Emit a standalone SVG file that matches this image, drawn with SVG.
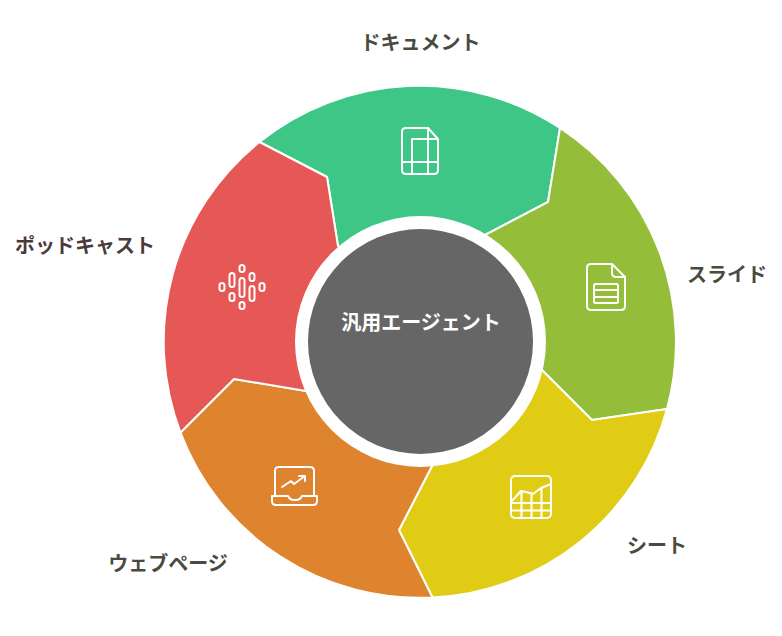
<svg xmlns="http://www.w3.org/2000/svg" width="782" height="636" viewBox="0 0 782 636">
<style>
.seg{stroke:#fff;stroke-width:2;stroke-linejoin:round}
.ic{fill:none;stroke:#fff;stroke-width:2;stroke-linecap:round;stroke-linejoin:round}
.lb{font-family:"Noto Sans CJK JP","Noto Sans",sans-serif;font-weight:700;font-size:20px;text-anchor:middle}
</style>
<rect width="782" height="636" fill="#fff"/>
<g id="connectors"></g>
<g id="node-document">
<path class="seg" fill="#3dc685" d="M259.500 142A255.500 255.500 0 0 1 560 128L548 202L485 235L420 300L338 246L327 177Z"/>
<g class="ic"><path d="M406 128H428L438 139V170Q438 174 434 174H406Q402 174 402 170V132Q402 128 406 128Z"/><path d="M428 128V139H438M412 174V139H428M402 162H438M428 139V174"/></g>
<text class="lb" x="420.500" y="50" fill="#4a4a40">ドキュメント</text>
</g>
<g id="node-slide">
<path class="seg" fill="#94bd3a" d="M560 128A255.500 255.500 0 0 1 667 409L592 420L542 370L420 340L485 235L548 202Z"/>
<g class="ic"><path d="M591 264H612L625 277V306Q625 310 621 310H591Q587 310 587 306V268Q587 264 591 264ZM612 264V273Q612 277 616 277H625"/><rect x="594" y="284" width="24" height="19" rx="1.500"/><path d="M594 290H618M594 297H618"/></g>
<text class="lb" x="727" y="282" fill="#4a4a40">スライド</text>
</g>
<g id="node-sheet">
<path class="seg" fill="#e0cc15" d="M667 409A255.500 255.500 0 0 1 432.500 597.500L399 530L432 466L420 340L542 370L592 420Z"/>
<g class="ic"><rect x="511" y="476" width="40" height="42" rx="4"/><path d="M511 502L521 491L526 492L533 494L541 488L551 484M521.500 491V518M531.500 493V518M541.500 488V518M511 503H551M511 510.500H551"/></g>
<text class="lb" x="657" y="553" fill="#4a4a40">シート</text>
</g>
<g id="node-web">
<path class="seg" fill="#de832e" d="M432.500 597.500A255.500 255.500 0 0 1 180.500 432.500L234 379L306 391L420 340L432 466L399 530Z"/>
<g class="ic"><path d="M275 496V471Q275 467 279 467H310Q314 467 314 471V496"/><path d="M272 496H288Q290 500 294 500H296Q300 500 302 496H317V501Q317 505 313 505H276Q272 505 272 501Z"/><path d="M282 487L291 481L294 484L305 476M299 476H305V481"/></g>
<text class="lb" x="168" y="571" fill="#4a4a40">ウェブページ</text>
</g>
<g id="node-podcast">
<path class="seg" fill="#e65855" d="M180.500 432.500A255.500 255.500 0 0 1 259.500 142L327 177L338 246L420 340L306 391L234 379Z"/>
<g class="ic"><rect x="239.500" y="265" width="5" height="7" rx="2.500"/><rect x="249.500" y="273" width="5" height="8" rx="2.500"/><rect x="229.500" y="273" width="5" height="14" rx="2.500"/><rect x="239.500" y="278" width="5" height="19" rx="2.500"/><rect x="249.500" y="286" width="5" height="15" rx="2.500"/><rect x="229.500" y="293" width="5" height="8" rx="2.500"/><rect x="239.500" y="302" width="5" height="7" rx="2.500"/><rect x="219.500" y="283" width="5" height="8" rx="2.500"/><rect x="259.500" y="283" width="5" height="8" rx="2.500"/></g>
<text class="lb" x="85" y="253" fill="#4a3a3a">ポッドキャスト</text>
</g>
<g id="node-center">
<circle cx="420.500" cy="341.500" r="125.500" fill="#fff"/>
<circle cx="420.500" cy="341.500" r="112.500" fill="#666"/>
<text x="421" y="330" fill="#fff" font-family="'Noto Sans CJK JP','Noto Sans',sans-serif" font-weight="700" font-size="20" text-anchor="middle">汎用エージェント</text>
</g>
</svg>
